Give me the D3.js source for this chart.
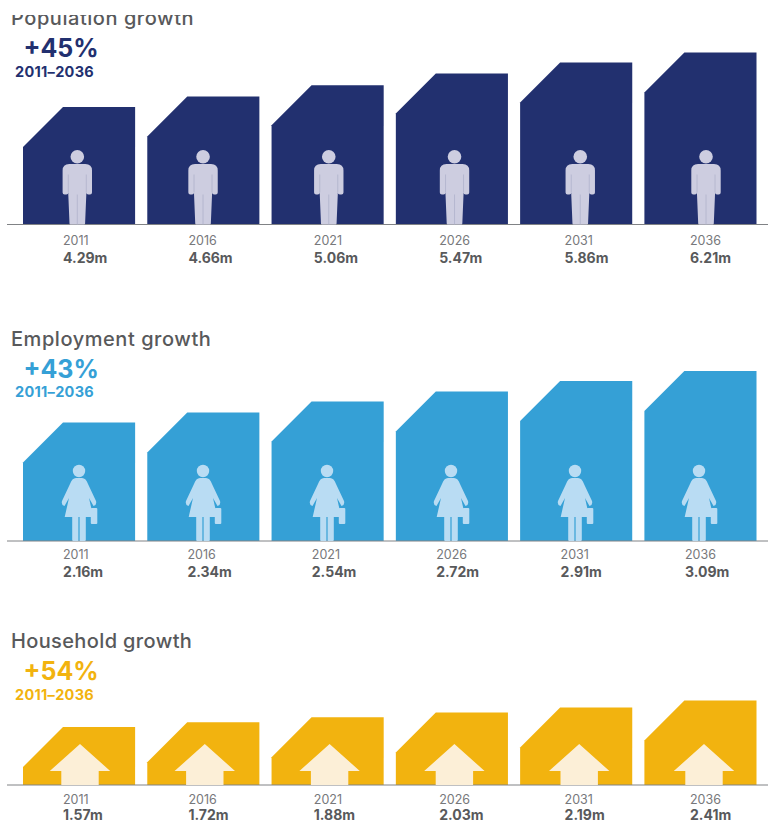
<!DOCTYPE html>
<html>
<head>
<meta charset="utf-8">
<script src="https://cdn.jsdelivr.net/npm/d3@7"></script>
<style>
html,body{margin:0;padding:0;background:#fff;}
svg{display:block;font-family:Inter,"Open Sans",sans-serif;}
</style>
</head>
<body>
<svg id="chart" width="768" height="823"></svg>
<script>
const years = ["2011","2016","2021","2026","2031","2036"];
const populationValues = [4.29,4.66,5.06,5.47,5.86,6.21];
const employmentValues = [2.16,2.34,2.54,2.72,2.91,3.09];
const householdValues = [1.57,1.72,1.88,2.03,2.19,2.41];

// Pictogram outlines, drawn around a local origin on the baseline
const personBody = "M-8,-60.5H8Q14.7,-60.5 14.7,-54V-32Q14.7,-30 12.7,-30H11Q9,-30 9,-32V-30L7.8,-1Q7.8,0 6.8,0H-6.8Q-7.8,0 -7.8,-1L-9,-30V-32Q-9,-30 -11,-30H-12.7Q-14.7,-30 -14.7,-32V-54Q-14.7,-60.5 -8,-60.5Z";
const personSeams = "M0,-30V0M-9,-50V-32M9,-50V-32";
const womanBody = "M-3,-63H3Q7,-63 9,-57L17,-40Q18,-36 14.5,-35L10,-43L14.3,-24H6.8V-1Q6.8,0 5.8,0H0.6V-24H-0.6V0H-5.8Q-6.8,0 -6.8,-1V-24H-14.3L-10,-43L-14.5,-35Q-18,-36 -17,-40L-9,-57Q-7,-63 -3,-63Z";
const arrowShape = "M0,-41L30.2,-14H18.7V0H-18.7V-14H-30.2Z";

const panels = [
  {title:"Population growth", titleSpacing:0.55, change:"+45%", values:populationValues, base:224.5, anchors:[4.29,6.21], heights:[117.5,172], color:"#22306f", titleY:25, changeY:57, rangeY:77, yearY:245, valueY:263, icon:"person", labelSpan:[63,690], iconSpan:[77.3,706], clipTitle:true},
  {title:"Employment growth", titleSpacing:0.55, change:"+43%", values:employmentValues, base:541, anchors:[2.16,3.09], heights:[118.5,170], color:"#35a0d6", titleY:346, changeY:378, rangeY:397, yearY:559, valueY:577, icon:"woman", labelSpan:[63,685], iconSpan:[79,699]},
  {title:"Household growth", titleSpacing:0.37, change:"+54%", values:householdValues, base:785, anchors:[1.57,2.41], heights:[58,84.5], color:"#f2b30f", titleY:648, changeY:680, rangeY:700, yearY:804, valueY:820, icon:"arrow", labelSpan:[63,690], iconSpan:[80,704]}
];

const svg = d3.select("#chart");
svg.append("defs").append("clipPath").attr("id","title-crop")
  .append("rect").attr("x",0).attr("y",15).attr("width",768).attr("height",30);

const barX = d3.scaleBand().domain(years).range([23,756.5]).paddingInner(0.098).paddingOuter(0);
const chamfer = 40;

panels.forEach(p => {
  const g = svg.append("g");
  const title = g.append("text").attr("x",11).attr("y",p.titleY).attr("font-size",20).attr("letter-spacing",p.titleSpacing).attr("font-weight",500).attr("fill","#58595b").text(p.title);
  if (p.clipTitle) title.attr("clip-path","url(#title-crop)");
  g.append("text").attr("x",23.5).attr("y",p.changeY).attr("font-size",25).attr("font-weight",700).attr("fill",p.color).text(p.change);
  g.append("text").attr("x",15).attr("y",p.rangeY).attr("font-size",14.5).attr("letter-spacing",0.3).attr("font-weight",700).attr("fill",p.color).text("2011–2036");

  const height = d3.scaleLinear().domain(p.anchors).range(p.heights);
  const labelX = d3.scalePoint().domain(years).range(p.labelSpan);
  const iconX = d3.scalePoint().domain(years).range(p.iconSpan);
  const rows = p.values.map((v,i)=>({year:years[i],value:v}));

  g.selectAll("path.bar").data(rows).join("path").attr("class","bar").attr("fill",p.color)
    .attr("d",d=>{
      const x0 = barX(d.year), x1 = x0+barX.bandwidth(), top = p.base-height(d.value);
      return d3.line()([[x0,p.base],[x0,top+chamfer],[x0+chamfer,top],[x1,top],[x1,p.base]])+"Z";
    });

  g.append("line").attr("x1",7).attr("x2",768).attr("y1",p.base).attr("y2",p.base).attr("stroke","#808285").attr("stroke-width",1);

  const icons = g.selectAll("g.icon").data(rows).join("g").attr("class","icon")
    .attr("transform",d=>`translate(${iconX(d.year)},${p.base})`);
  if (p.icon==="person") {
    icons.append("circle").attr("cy",-67.8).attr("r",6.8).attr("fill","#cdcde0");
    icons.append("path").attr("d",personBody).attr("fill","#cdcde0");
    icons.append("path").attr("d",personSeams).attr("fill","none").attr("stroke","#b0b2cc").attr("stroke-width",0.8);
  } else if (p.icon==="woman") {
    icons.append("circle").attr("cy",-70).attr("r",6.2).attr("fill","#b9dcf3");
    icons.append("path").attr("d",womanBody).attr("fill","#b9dcf3");
    icons.append("rect").attr("x",11.8).attr("y",-33).attr("width",6.5).attr("height",16).attr("rx",1).attr("fill","#b9dcf3");
  } else {
    icons.append("path").attr("d",arrowShape).attr("fill","#fcefd7");
  }

  g.selectAll("text.year").data(rows).join("text").attr("class","year").attr("x",d=>labelX(d.year)).attr("y",p.yearY)
    .attr("font-size",12.5).attr("fill","#77787b").text(d=>d.year);
  g.selectAll("text.val").data(rows).join("text").attr("class","val").attr("x",d=>labelX(d.year)).attr("y",p.valueY)
    .attr("font-size",14).attr("font-weight",700).attr("fill","#58595b").text(d=>d.value.toFixed(2)+"m");
});
</script>
</body>
</html>
